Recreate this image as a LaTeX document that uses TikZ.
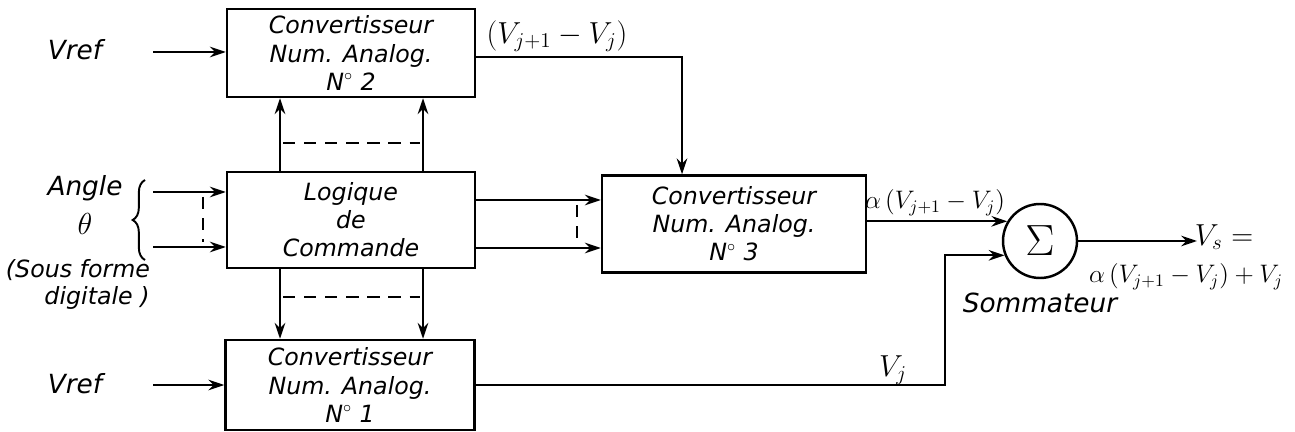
\documentclass[tikz,border=0pt]{standalone}
\usepackage{fontspec}
\setsansfont{DejaVu Sans}
\usetikzlibrary{arrows.meta,decorations.pathreplacing,calc}
\begin{document}
\begin{tikzpicture}[x=0.02cm,y=-0.02cm,
  wire/.style={line width=1.3pt},
  arr/.style={wire,-{Stealth[length=9pt,width=6pt]}},
  bus/.style={line width=1pt,dash pattern=on 7pt off 5pt},
  blockbox/.style={draw,line width=1.4pt,align=center,inner sep=1pt,font=\fontsize{13.5}{16}\selectfont\sffamily\slshape},
  lbl/.style={font=\fontsize{15}{17}\selectfont\sffamily\slshape,inner sep=1pt},
  slbl/.style={font=\fontsize{13.5}{15}\selectfont\sffamily\slshape,inner sep=1pt},
  mlbl/.style={font=\fontsize{17}{19}\selectfont,inner sep=1pt},
  smlbl/.style={font=\fontsize{14}{16}\selectfont,inner sep=1pt}]
\useasboundingbox (0,0) rectangle (1295,432);
% blocks
\node[blockbox,minimum width=248*0.02cm,minimum height=88*0.02cm] (b2) at (351,53) {Convertisseur\\Num. Analog.\\N$^{\circ}$ 2};
\node[blockbox,minimum width=248*0.02cm,minimum height=96*0.02cm] (lg) at (351,220) {Logique\\de\\Commande};
\node[blockbox,minimum width=249*0.02cm,minimum height=90*0.02cm] (b1) at (350,385) {Convertisseur\\Num. Analog.\\N$^{\circ}$ 1};
\node[blockbox,minimum width=264*0.02cm,minimum height=97*0.02cm] (b3) at (734,224) {Convertisseur\\Num. Analog.\\N$^{\circ}$ 3};
\node[draw,circle,line width=1.4pt,minimum size=74*0.02cm,inner sep=0pt,font=\fontsize{32}{32}\selectfont] (sum) at (1040,241) {$\Sigma$};
% coordinates
\coordinate (xa) at (280,0);
\coordinate (xb) at (423,0);
\coordinate (v2in) at (153,52);
\coordinate (v1in) at (153,385);
\coordinate (ain1) at (153,192);
\coordinate (ain2) at (153,247);
\coordinate (lo1) at (475,200);
\coordinate (lo2) at (475,248);
\coordinate (b2o) at (475,57);
\coordinate (x3) at (682,0);
\coordinate (turn) at (945,0);
\coordinate (vs) at (1197,241);
% connectors
\draw[arr] (v2in) -- (v2in -| b2.west);
\draw[arr] (v1in) -- (v1in -| b1.west);
\draw[arr] (lg.north -| xa) -- (b2.south -| xa);
\draw[arr] (lg.north -| xb) -- (b2.south -| xb);
\draw[arr] (lg.south -| xa) -- (b1.north -| xa);
\draw[arr] (lg.south -| xb) -- (b1.north -| xb);
\draw[bus] (283,143) -- (420,143);
\draw[bus] (283,297) -- (420,297);
\draw[arr] (ain1) -- (ain1 -| lg.west);
\draw[arr] (ain2) -- (ain2 -| lg.west);
\draw[bus] (203,197) -- (203,242);
\draw[arr] (lo1) -- (lo1 -| b3.west);
\draw[arr] (lo2) -- (lo2 -| b3.west);
\draw[bus] (577,205) -- (577,243);
\draw[arr] (b2o) -| (b3.north -| x3);
\draw[arr] (b3.east |- sum.149) -- (sum.149);
\draw[arr] (b1.east) -| (turn |- sum.202) -- (sum.202);
\draw[arr] (sum.east) -- (vs);
% brace
\draw[line width=1.1pt,decorate,decoration={brace,amplitude=7pt}] (145,260) -- (145,180);
% labels
\node[lbl] (t1) at (75,50) {Vref};
\node[lbl] (t2) at (75,384) {Vref};
\node[lbl] (t3) at (85,188) {Angle};
\node[mlbl] (t4) at (85,224) {$\theta$};
\node[slbl] (t5) at (78,270) {(Sous forme};
\node[slbl] (t6) at (97,298) {digitale )};
\node[mlbl] (t7) at (557,36) {$(V_{j+1}-V_j)$};
\node[smlbl] (t8) at (935,203) {$\alpha\,(V_{j+1}-V_j)$};
\node[mlbl] (t9) at (893,370) {$V_j$};
\node[mlbl] (t10) at (1224,237) {$V_s=$};
\node[smlbl] (t11) at (1186,277) {$\alpha\,(V_{j+1}-V_j)+V_j$};
\node[lbl] (t12) at (1040,303) {Sommateur};
\end{tikzpicture}
\end{document}
